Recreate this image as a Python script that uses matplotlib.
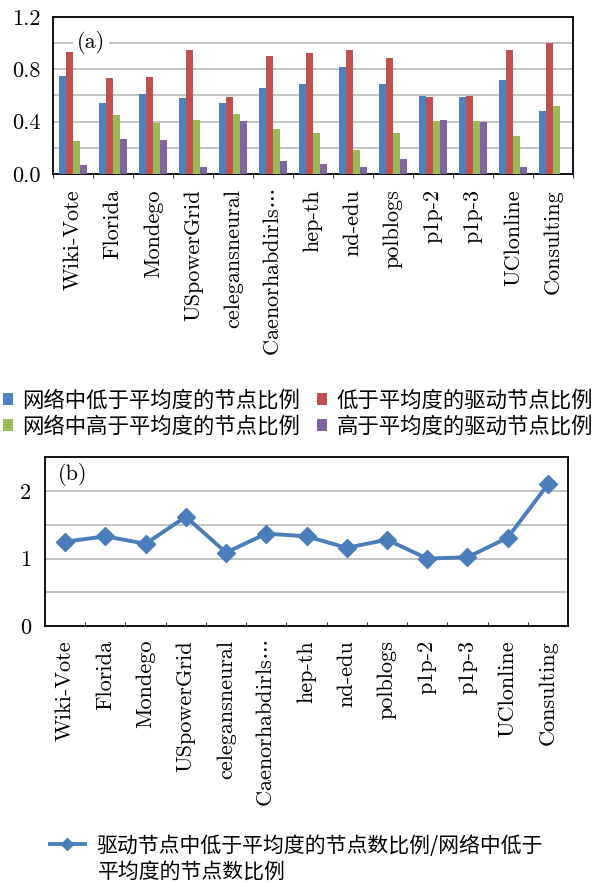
import matplotlib
matplotlib.use('Agg')
import matplotlib.pyplot as plt
import numpy as np
from matplotlib.lines import Line2D
from matplotlib.patches import Patch

plt.rcParams['mathtext.fontset'] = 'cm'

# data
networks = ['Wiki-Vote', 'Florida', 'Mondego', 'USpowerGrid', 'celegansneural',
            r'Caenorhabdirls$\cdots$', 'hep-th', 'nd-edu', 'polblogs', 'p1p-2',
            'p1p-3', 'UClonline', 'Consulting']
low_net = [0.745, 0.544, 0.608, 0.582, 0.539, 0.659, 0.689, 0.814, 0.689, 0.597, 0.587, 0.717, 0.477]
low_drv = [0.930, 0.733, 0.738, 0.945, 0.587, 0.899, 0.927, 0.945, 0.883, 0.587, 0.597, 0.945, 1.003]
high_net = [0.253, 0.452, 0.388, 0.414, 0.457, 0.340, 0.309, 0.184, 0.309, 0.401, 0.408, 0.286, 0.521]
high_drv = [0.069, 0.266, 0.258, 0.054, 0.408, 0.097, 0.079, 0.054, 0.115, 0.411, 0.398, 0.054, 0.0]
ratio = [1.25, 1.33, 1.22, 1.62, 1.09, 1.37, 1.33, 1.16, 1.28, 1.00, 1.02, 1.31, 2.10]

bar_labels = ['网络中低于平均度的节点比例', '低于平均度的驱动节点比例',
              '网络中高于平均度的节点比例', '高于平均度的驱动节点比例']
line_label = ['驱动节点中低于平均度的节点数比例/网络中低于', '平均度的节点数比例']

colors = ['#4F81BD', '#C0504D', '#9BBB59', '#8064A2']
serif = ['cmr10', 'DejaVu Serif']
cjk = ['Noto Sans CJK SC', 'DejaVu Sans']
fs = 16

fig = plt.figure(figsize=(5.93, 8.83), dpi=100)
x = np.arange(len(networks))

# (a) bar chart
ax1 = fig.add_axes([0.0894, 0.803, 0.877, 0.178])
w = 0.18
series = [low_net, low_drv, high_net, high_drv]
for i, vals in enumerate(series):
    ax1.bar(x + (i - 1.5) * w, vals, width=w, color=colors[i], zorder=3)
ax1.set_xlim(-0.5, len(networks) - 0.5)
ax1.set_ylim(0, 1.2)
ax1.set_yticks([0, 0.4, 0.8, 1.2])
ax1.set_yticklabels(['0.0', '0.4', '0.8', '1.2'], family=serif, fontsize=fs)
ax1.set_yticks(np.arange(0.2, 1.2, 0.2), minor=True)
ax1.yaxis.grid(True, which='both', color='#BEBEBE', lw=1.3, zorder=0)
ax1.tick_params(axis='y', which='both', length=0, pad=9)
ax1.set_xticks(x)
ax1.set_xticklabels(networks, rotation=90, family=serif, fontsize=fs)
ax1.set_xticks(np.arange(-0.5, len(networks)), minor=True)
ax1.tick_params(axis='x', which='major', length=0, pad=11)
ax1.tick_params(axis='x', which='minor', length=3, direction='out')
for s in ax1.spines.values():
    s.set_linewidth(1.3)
ax1.text(0.073, 0.834, '(a)', transform=ax1.transAxes, family=serif, fontsize=fs,
         ha='center', va='center', zorder=4,
         bbox=dict(facecolor='white', edgecolor='none', pad=3))

handles = [Patch(facecolor=c, edgecolor='none') for c in colors]
order = [0, 2, 1, 3]
fig.legend([handles[i] for i in order], [bar_labels[i] for i in order],
           ncol=2, loc='upper left', bbox_to_anchor=(0.005, 0.559),
           frameon=False, prop={'family': cjk, 'size': 15.4},
           borderpad=0, borderaxespad=0,
           handlelength=0.45, handleheight=0.45, handletextpad=0.45,
           columnspacing=0.8, labelspacing=0.2)

# (b) line chart
ax2 = fig.add_axes([0.0759, 0.291, 0.882, 0.191])
ax2.plot(x, ratio, color='#4A7EBB', lw=2.8, marker='D', markersize=9, zorder=3)
ax2.set_xlim(-0.5, len(networks) - 0.5)
ax2.set_ylim(0, 2.5)
ax2.set_yticks([0, 1, 2])
ax2.set_yticklabels(['0', '1', '2'], family=serif, fontsize=fs)
ax2.set_yticks([0.5, 1.5], minor=True)
ax2.yaxis.grid(True, which='both', color='#BEBEBE', lw=1.3, zorder=0)
ax2.tick_params(axis='y', which='both', length=0, pad=10)
ax2.set_xticks(x)
ax2.set_xticklabels(networks, rotation=90, family=serif, fontsize=fs)
ax2.set_xticks(np.arange(0.5, len(networks) - 1), minor=True)
ax2.tick_params(axis='x', which='major', length=0, pad=10)
ax2.tick_params(axis='x', which='minor', length=3, direction='in')
for s in ax2.spines.values():
    s.set_linewidth(1.3)
ax2.text(0.053, 0.9, '(b)', transform=ax2.transAxes, family=serif, fontsize=fs,
         ha='center', va='center', zorder=4)

# legend of (b): key sits on the first line, second line wraps under the text
line_handle = Line2D([], [], color='#4A7EBB', lw=2.8, marker='D', markersize=6)
fig.legend([line_handle], [line_label[0]], loc='upper left', bbox_to_anchor=(0.084, 0.0546),
           frameon=False, prop={'family': cjk, 'size': 15},
           borderpad=0, borderaxespad=0,
           handlelength=1.68, handletextpad=0.55)
fig.text(0.165, 0.0125, line_label[1], family=cjk, fontsize=15, ha='left', va='center')

fig.savefig('out.png', dpi=100)
